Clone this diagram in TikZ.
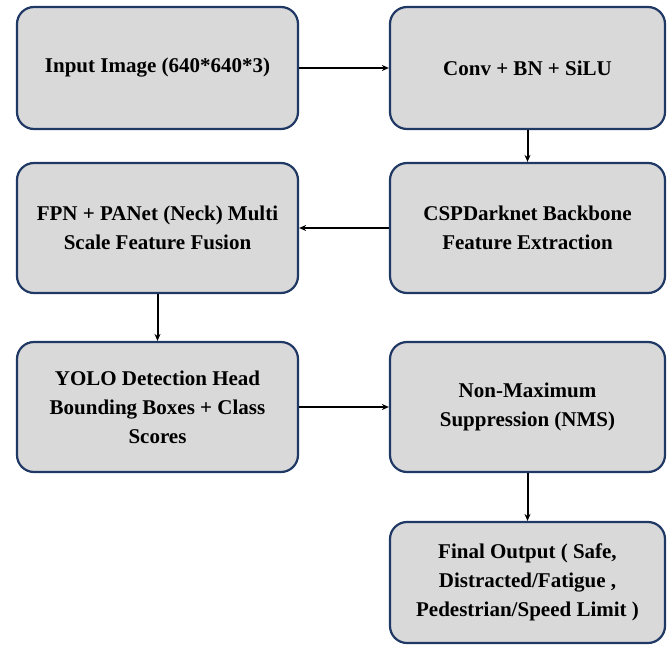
\documentclass[tikz,border=0pt]{standalone}
\usepackage{fontspec}
\setmainfont{Liberation Serif}
\usetikzlibrary{arrows.meta}
\definecolor{boxfill}{HTML}{D9D9D9}
\definecolor{boxline}{HTML}{1F3864}
\begin{document}
\begin{tikzpicture}[x=1pt,y=-1pt,
  stagebox/.style={draw=boxline, fill=boxfill, line width=2.2pt, rounded corners=17pt,
    align=center, inner sep=0pt, font=\rmfamily\bfseries\fontsize{21}{29}\selectfont},
  flow/.style={draw=black, line width=2pt, -{Stealth[length=7pt,width=6pt]}}]
\useasboundingbox (0,0) rectangle (667,648);
\node[stagebox, minimum width=281pt, minimum height=122pt] (inp) at (157.5,68) {Input Image (640*640*3)};
\node[stagebox, minimum width=275pt, minimum height=122pt] (conv) at (527.5,68) {Conv + BN + SiLU};
\node[stagebox, minimum width=275pt, minimum height=130pt] (csp) at (527.5,228) {CSPDarknet Backbone\\Feature Extraction};
\node[stagebox, minimum width=281pt, minimum height=130pt] (fpn) at (157.5,228) {FPN + PANet (Neck) Multi\\Scale Feature Fusion};
\node[stagebox, minimum width=281pt, minimum height=130pt] (yolo) at (157.5,407) {YOLO Detection Head\\Bounding Boxes + Class\\Scores};
\node[stagebox, minimum width=275pt, minimum height=130pt] (nms) at (527.5,407) {Non-Maximum\\Suppression (NMS)};
\node[stagebox, minimum width=275pt, minimum height=121pt] (out) at (527.5,582.5) {Final Output ( Safe,\\Distracted/Fatigue ,\\Pedestrian/Speed Limit )};
\draw[flow] (inp) -- (conv);
\draw[flow] (conv) -- (csp);
\draw[flow] (csp) -- (fpn);
\draw[flow] (fpn) -- (yolo);
\draw[flow] (yolo) -- (nms);
\draw[flow] (nms) -- (out);
\end{tikzpicture}
\end{document}
